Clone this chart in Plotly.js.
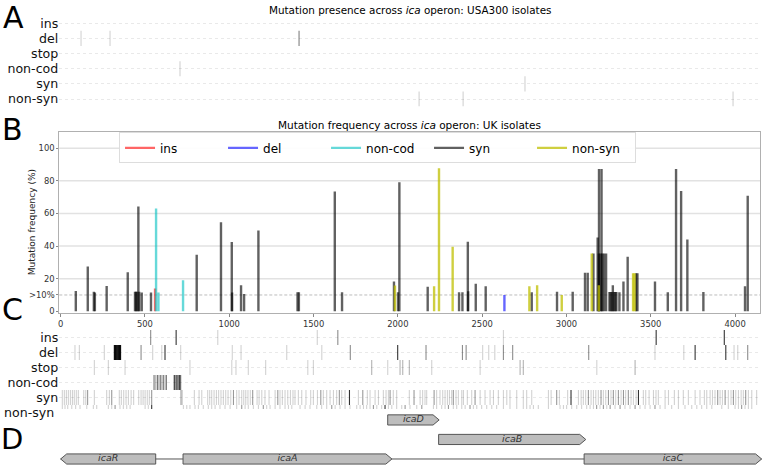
<!DOCTYPE html>
<html><head><meta charset="utf-8">
<script src="https://cdn.plot.ly/plotly-3.0.1.min.js"></script>
<style>html,body{margin:0;padding:0;background:#fff}#chart{width:764px;height:467px}</style>
</head><body><div id="chart"></div>
<script>
// ---------- shared ----------
const rowLabels = ['ins','del','stop','non-cod','syn','non-syn'];
const xTickVals = [0,500,1000,1500,2000,2500,3000,3500,4000];
const yTickVals = [0,10,20,40,60,80,100];
const yTickText = ['0','>10%','20','40','60','80','100'];
const gridVals = [20,40,60,80,100];
const thresholdVal = 10;

// ---------- A: USA300 presence ----------
const usaDelLight = [121, 293];
const usaDelDark = [1414];
const usaNonCodLight = [708];
const usaSynLight = [2754];
const usaNonSynLight = [2126, 2387, 3988];

// ---------- B: UK frequency ----------
const synPos  = [90,161,197,203,273,398,441,447,453,461,466,481,536,807,951,1015,1017,1070,1088,1173,1405,1413,1626,1669,1977,2001,2009,2177,2363,2383,2415,2417,2462,2521,2794,2944,3037,3110,3126,3160,3185,3193,3208,3192,3202,3212,3222,3235,3255,3262,3270,3275,3282,3290,3296,3314,3338,3363,3413,3421,3525,3601,3650,3680,3717,3812,4059,4075];
const synFreq = [12.5,27.4,12,11.5,15.5,24,12,12,12,64.2,12,11.5,11.5,34.7,54.6,42.5,11.5,16,10.6,49.5,11.6,11.6,73.4,11.6,18.2,11.6,79.1,15.1,11.6,11.6,42.7,12.3,16.9,15.4,11.6,12,12,23.7,23.7,35.4,45.2,87.3,87.3,35.4,35.4,35.4,35.4,35.4,11.8,11.8,11.8,16,11.8,11.8,11.8,11.6,18.2,33.5,23.3,23.3,18.2,11.6,87.3,73.8,44,11.8,15.4,70.9];
const nonSynPos  = [1983,2215,2244,2325,2780,2826,2972,3150,3192,3395,3404];
const nonSynFreq = [15.8,15.4,87.7,39.5,15.4,16,10,35.4,16,23.3,23.3];
const insPos = [560];
const insFreq = [14];
const delPos = [2632];
const delFreq = [10];
const nonCodPos = [566,580,726];
const nonCodFreq = [63,11.5,19];

// ---------- C: UK presence ----------
const ukInsLight = [932,1522,2626];
const ukInsMid = [534,1644];
const ukInsDark = [685,3532,3936];
const ukDelLight = [85,111,259,546,600,712,1018,1070,1341,1549,2503,2539,2575,3525,3696,3994,4016];
const ukDelMid = [477,1718,2167,2383,2405,2626,2681,3132,4075];
const ukDelDark = [619,1999,3763,3945];
const ukDelBlock = [320,327,334,341,348,354];
const ukStopLight = [200,283,382,767,1015,1040,1113,1216,1466,1499,1940,2201,2488,3180];
const ukStopMid = [1845,2013,2029,2068,2725,2744,3407];
const ukNonCodLight = [564,582,600,619];
const ukNonCodMid = [554,574,591,609,627,683,698,712];
const ukNonCodDark = [674,690,706];
const ukSynLight = [10,22,34,46,58,70,81,93,105,137,149,200,273,289,348,360,374,388,402,418,433,463,477,489,501,514,526,722,793,821,837,872,884,896,910,924,937,951,965,979,993,1009,1044,1058,1074,1086,1098,1111,1125,1165,1177,1193,1212,1236,1272,1301,1315,1331,1347,1363,1378,1390,1410,1430,1455,1483,1499,1523,1558,1578,1598,1618,1637,1667,1687,1766,1819,1835,1865,1885,1914,1930,1944,1973,1993,2068,2132,2147,2161,2171,2230,2250,2266,2280,2294,2306,2319,2345,2359,2379,2389,2412,2438,2488,2517,2547,2567,2596,2626,2646,2665,2705,2744,2764,2794,2893,2909,2958,3007,3071,3087,3100,3114,3146,3160,3174,3189,3219,3233,3264,3292,3324,3351,3383,3397,3413,3456,3470,3490,3516,3531,3545,3585,3605,3640,3664,3693,3723,3763,3792,3818,3832,3852,3866,3881,3911,3925,3960,3976,4004,4020,4036,4049,4079,4099,4128];
const ukSynMid = [160,303,540,714,1025,1139,1288,1543,1653,1792,1954,2096,2215,2329,2458,2942,3130,3205,3249,3278,3308,3338,3367,3897,3941,3990,4063];
const ukSynDark = [1713,3027,3427];
const ukNonSynLight = [10,26,42,66,89,115,155,194,214,283,303,352,372,392,412,501,520,728,748,767,797,817,846,876,896,916,945,975,1005,1044,1094,1113,1143,1173,1222,1242,1272,1301,1331,1351,1371,1420,1450,1479,1519,1548,1578,1628,1657,1687,1716,1756,1776,1796,1815,1835,1875,1904,1944,1964,1993,2023,2072,2112,2211,2230,2260,2280,2329,2349,2379,2399,2448,2468,2497,2527,2557,2586,2626,2665,2705,2744,2764,2784,2804,2833,2893,2962,2982,3001,3031,3061,3090,3120,3140,3160,3199,3239,3288,3347,3377,3436,3466,3496,3555,3585,3624,3664,3703,3743,3773,3802,3832,3862,3921,3960,4000,4020,4059,4079,4099];
const ukNonSynMid = [323,1074,1202,1608,1855,2043,2142,2300,2428,3179,3219,3259,3318,3407,3525,4039];
const ukNonSynDark = [540,1924];

// ---------- D: genes ----------
const geneNames  = ['icaR','icaA','icaD','icaB','icaC'];
const geneStart  = [0,726,1940,2242,3105];
const geneEnd    = [564,1965,2245,3115,4158];
const geneStrand = [-1,1,1,1,1];
const geneLevel  = [0,0,2,1,0];

// ---------- build ----------
const FONT = 'DejaVu Sans, Liberation Sans, sans-serif';
const traces = [];

function events(pos, row, alpha, xa, ya, w) {
  const xs = [], ys = [];
  pos.forEach(p => { xs.push(p, p, null); ys.push(row - 0.5, row + 0.5, null); });
  traces.push({type:'scatter', mode:'lines', x:xs, y:ys, xaxis:xa, yaxis:ya,
    line:{color:'rgba(0,0,0,'+alpha+')', width:w || 1.1}, hoverinfo:'skip', showlegend:false});
}
const L = 0.18, M = 0.45, D = 0.8;
// A
events(usaDelLight, 1, L, 'x', 'y');
events(usaDelDark, 1, 0.5, 'x', 'y');
events(usaNonCodLight, 3, L, 'x', 'y');
events(usaSynLight, 4, L, 'x', 'y');
events(usaNonSynLight, 5, L, 'x', 'y');
// C
events(ukInsLight, 0, L, 'x3', 'y3'); events(ukInsMid, 0, M, 'x3', 'y3'); events(ukInsDark, 0, D, 'x3', 'y3');
events(ukDelLight, 1, L, 'x3', 'y3'); events(ukDelMid, 1, M, 'x3', 'y3'); events(ukDelDark, 1, D, 'x3', 'y3');
events(ukDelBlock, 1, 0.95, 'x3', 'y3', 1.6);
events(ukStopLight, 2, L, 'x3', 'y3'); events(ukStopMid, 2, 0.3, 'x3', 'y3');
events(ukNonCodLight, 3, 0.3, 'x3', 'y3'); events(ukNonCodMid, 3, 0.55, 'x3', 'y3'); events(ukNonCodDark, 3, 0.85, 'x3', 'y3');
events(ukSynLight, 4, L, 'x3', 'y3'); events(ukSynMid, 4, 0.4, 'x3', 'y3'); events(ukSynDark, 4, D, 'x3', 'y3');
events(ukNonSynLight, 5, L, 'x3', 'y3'); events(ukNonSynMid, 5, 0.4, 'x3', 'y3'); events(ukNonSynDark, 5, D, 'x3', 'y3');

// B: each bar its own trace so overlaps darken like alpha-blended bars
function bars(pos, freq, color, name, rank) {
  pos.forEach((p, i) => {
    traces.push({type:'scatter', mode:'lines', x:[p, p], y:[0, freq[i]], xaxis:'x2', yaxis:'y2',
      line:{color:color, width:2.4}, name:name, legendrank:rank, showlegend:i === 0,
      hovertemplate:name + ' %{x}: %{y}%<extra></extra>'});
  });
}
bars(synPos, synFreq, 'rgba(0,0,0,0.62)', 'syn', 4);
bars(nonSynPos, nonSynFreq, 'rgba(191,191,0,0.75)', 'non-syn', 5);
bars(insPos, insFreq, 'rgba(255,0,0,0.6)', 'ins', 1);
bars(delPos, delFreq, 'rgba(0,0,255,0.6)', 'del', 2);
bars(nonCodPos, nonCodFreq, 'rgba(0,191,191,0.6)', 'non-cod', 3);

// D: backbone + gene arrows
const lvl0 = geneLevel.map((l, i) => l === 0 ? i : -1).filter(i => i >= 0);
traces.push({type:'scatter', mode:'lines', xaxis:'x4', yaxis:'y4',
  x:[Math.min(...lvl0.map(i => geneStart[i])), Math.max(...lvl0.map(i => geneEnd[i]))], y:[0, 0],
  line:{color:'#555', width:1}, hoverinfo:'skip', showlegend:false});
const HH = 0.26, HEAD = 36;
geneNames.forEach((g, i) => {
  const s = geneStart[i], e = geneEnd[i], l = geneLevel[i];
  let xs;
  if (geneStrand[i] > 0) {
    xs = [s, e - HEAD, e, e - HEAD, s, s];
  } else {
    xs = [e, s + HEAD, s, s + HEAD, e, e];
  }
  const ys = [l - HH, l - HH, l, l + HH, l + HH, l - HH];
  traces.push({type:'scatter', mode:'lines', x:xs, y:ys, xaxis:'x4', yaxis:'y4', fill:'toself',
    fillcolor:'#bdbdbd', line:{color:'#555', width:1}, name:g, hoverinfo:'name', showlegend:false});
});
traces.push({type:'scatter', mode:'text', xaxis:'x4', yaxis:'y4',
  x:geneNames.map((g, i) => (geneStart[i] + geneEnd[i]) / 2), y:geneLevel, text:geneNames,
  textfont:{family:FONT, size:9.5, color:'#333', style:'italic'}, hoverinfo:'skip', showlegend:false});

// geometry
const XD = [0.0776, 0.9948];
const XR = [-8, 4148];
const rowAxis = (domain, range) => ({domain, range, tickvals:[0,1,2,3,4,5], ticktext:rowLabels,
  showgrid:true, gridcolor:'#e9e9e9', griddash:'dot', gridwidth:1, zeroline:false, showline:false,
  ticks:'', tickfont:{family:FONT, size:12.6, color:'#111'}, fixedrange:true});

const shapes = gridVals.map(v => ({type:'line', xref:'x2 domain', x0:0, x1:1, yref:'y2', y0:v, y1:v,
  line:{color:'#e2e2e2', width:1.5}, layer:'below'}));
shapes.push({type:'line', xref:'x2 domain', x0:0, x1:1, yref:'y2', y0:thresholdVal, y1:thresholdVal,
  line:{color:'#a0a0a0', width:0.7, dash:'3px,2px'}, layer:'below'});

const C_RANGE = [4.77, -0.5];
const nonSynFrac = (5 - C_RANGE[0]) / (C_RANGE[1] - C_RANGE[0]);

const layout = {
  width:764, height:467, margin:{l:0, r:0, t:0, b:0}, autosize:false,
  paper_bgcolor:'#fff', plot_bgcolor:'rgba(0,0,0,0)',
  font:{family:FONT, color:'#000'},
  showlegend:true,
  legend:{orientation:'h', x:0.1558, xanchor:'left', y:0.7165, yanchor:'top',
    bgcolor:'rgba(255,255,255,0.92)', bordercolor:'#dddddd', borderwidth:1,
    font:{family:FONT, size:12, color:'#000'}, entrywidth:58, entrywidthmode:'pixels', itemwidth:30},
  xaxis:{domain:XD, range:XR, visible:false, anchor:'y', fixedrange:true},
  yaxis:rowAxis([0.7717, 0.9664], [5.5, -0.5]),
  xaxis2:{domain:XD, range:XR, anchor:'y2', tickvals:xTickVals, ticks:'outside', ticklen:3, tickcolor:'#888',
    tickfont:{family:FONT, size:8.4, color:'#333'}, showline:true, mirror:true, linecolor:'#b0b0b0', linewidth:1,
    showgrid:false, zeroline:false, fixedrange:true},
  yaxis2:{domain:[0.3304, 0.7180], range:[-0.86, 110.1], anchor:'x2', tickvals:yTickVals, ticktext:yTickText,
    ticks:'outside', ticklen:2, tickcolor:'#888', tickfont:{family:FONT, size:8.4, color:'#333'},
    showline:true, mirror:true, linecolor:'#b0b0b0', linewidth:1, showgrid:false, zeroline:false, fixedrange:true},
  xaxis3:{domain:XD, range:XR, visible:false, anchor:'y3', fixedrange:true},
  yaxis3:rowAxis([0.1242, 0.2934], C_RANGE),
  xaxis4:{domain:[0.0776, 1], range:[-8, 4172], visible:false, anchor:'y4', fixedrange:true},
  yaxis4:{domain:[0, 0.1221], range:[-0.41, 2.51], visible:false, anchor:'x4', fixedrange:true},
  shapes:shapes,
  annotations:[
    {text:'Mutation presence across <i>ica</i> operon: USA300 isolates', xref:'paper', yref:'paper',
      x:0.5366, y:1 - 10/467, xanchor:'center', yanchor:'middle', showarrow:false, font:{family:FONT, size:10.4, color:'#000'}},
    {text:'Mutation frequency across <i>ica</i> operon: UK isolates', xref:'paper', yref:'paper',
      x:0.5366, y:1 - 125/467, xanchor:'center', yanchor:'middle', showarrow:false, font:{family:FONT, size:10.5, color:'#000'}},
    {text:'Mutation frequency (%)', xref:'paper', yref:'y2 domain', x:32/764, y:0.5, xanchor:'center', yanchor:'middle',
      textangle:-90, showarrow:false, font:{family:FONT, size:9, color:'#222'}},
    {text:'non-syn', xref:'paper', x:0.0776, xanchor:'right', xshift:-3, yref:'y3 domain', y:nonSynFrac, yanchor:'middle',
      showarrow:false, font:{family:FONT, size:12.6, color:'#111'}},
    {text:'A', xref:'paper', yref:'paper', x:13/764, y:1 - 17/467, xanchor:'center', yanchor:'middle', showarrow:false, font:{family:FONT, size:30, color:'#000'}},
    {text:'B', xref:'paper', yref:'paper', x:12/764, y:1 - 129/467, xanchor:'center', yanchor:'middle', showarrow:false, font:{family:FONT, size:30, color:'#000'}},
    {text:'C', xref:'paper', yref:'paper', x:12/764, y:1 - 309/467, xanchor:'center', yanchor:'middle', showarrow:false, font:{family:FONT, size:30, color:'#000'}},
    {text:'D', xref:'paper', yref:'paper', x:12/764, y:1 - 420/467, xanchor:'center', yanchor:'top', showarrow:false, font:{family:FONT, size:29, color:'#000'}}
  ]
};

Plotly.newPlot('chart', traces, layout, {displayModeBar:false, staticPlot:true});
</script>
</body></html>
